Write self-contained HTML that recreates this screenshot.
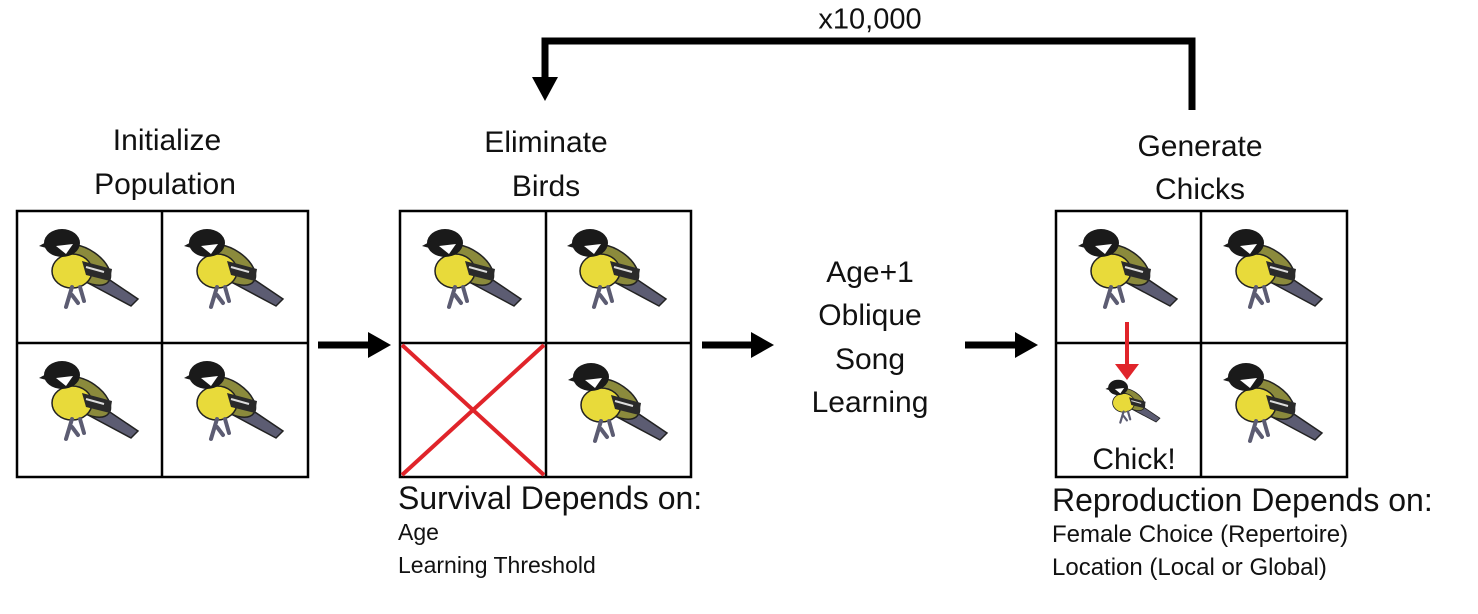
<!DOCTYPE html>
<html><head><style>
body{margin:0;width:1478px;height:614px;background:#fff;position:relative;overflow:hidden;font-family:"Liberation Sans",sans-serif;color:#111}
.t{position:absolute;transform:translate(-50%,-50%);white-space:nowrap;font-size:30px}
.l{position:absolute;white-space:nowrap}
</style></head><body>
<svg width="1478" height="614" style="position:absolute;left:0;top:0">
<defs>
<g id="bird">
<polygon points="75,55 118,84 111,91 68,68" fill="#5c5c72" stroke="#222" stroke-width="1.5"/>
<ellipse cx="66" cy="50" rx="28" ry="15" transform="rotate(35 66 50)" fill="#8b8a3c" stroke="#222" stroke-width="1.5"/>
<ellipse cx="52" cy="56" rx="20" ry="17" fill="#e8da3a" stroke="#222" stroke-width="1.5"/>
<polygon points="62,46 92,54 90,66 66,60" fill="#2a2a2a"/>
<line x1="66" y1="52" x2="84" y2="57" stroke="#ddd" stroke-width="2"/>
<ellipse cx="42" cy="28" rx="18" ry="14" fill="#1a1a1a"/>
<polygon points="36,31 53,29 46,39" fill="#fff"/>
<polygon points="19,31 30,25 30,34" fill="#1a1a1a"/>
<path d="M52 72 L46 92 M52 80 L58 88 M60 72 L64 86" stroke="#5c5c72" stroke-width="4" fill="none" stroke-linecap="round"/>
</g>
</defs>
<g stroke="#000" stroke-width="2.5" fill="none">
<rect x="17" y="211" width="291" height="266"/><line x1="162" y1="211" x2="162" y2="477"/><line x1="17" y1="343" x2="308" y2="343"/>
<rect x="400" y="211" width="291" height="266"/><line x1="546" y1="211" x2="546" y2="477"/><line x1="400" y1="343" x2="691" y2="343"/>
<rect x="1056" y="211" width="291" height="266"/><line x1="1201" y1="211" x2="1201" y2="477"/><line x1="1056" y1="343" x2="1347" y2="343"/>
</g>
<use href="#bird" x="20" y="215"/><use href="#bird" x="165" y="215"/>
<use href="#bird" x="20" y="347"/><use href="#bird" x="165" y="347"/>
<use href="#bird" x="403" y="215"/><use href="#bird" x="548" y="215"/>
<use href="#bird" x="549" y="349"/>
<use href="#bird" x="1059" y="215"/><use href="#bird" x="1204" y="215"/>
<use href="#bird" x="1204" y="349"/>
<g transform="translate(1095,372) scale(0.55)"><use href="#bird"/></g>
<g stroke="#e0242a" stroke-width="4"><line x1="402" y1="345" x2="544" y2="475"/><line x1="544" y1="345" x2="402" y2="475"/></g>
<line x1="1127" y1="322" x2="1127" y2="368" stroke="#e0242a" stroke-width="4"/>
<polygon points="1115,364 1139,364 1127,380" fill="#e0242a"/>
<g stroke="#000" stroke-width="7">
<line x1="318" y1="345" x2="372" y2="345"/><line x1="702" y1="345" x2="755" y2="345"/><line x1="965" y1="345" x2="1019" y2="345"/>
<polyline points="1192,110 1192,41 545,41 545,80" fill="none"/>
</g>
<g fill="#000">
<polygon points="368,332 391,345 368,358"/><polygon points="751,332 774,345 751,358"/><polygon points="1015,332 1038,345 1015,358"/>
<polygon points="532,77 558,77 545,101"/>
</g>
</svg>
<div class="t" style="left:870px;top:20px;font-size:29px">x10,000</div>
<div class="t" style="left:167px;top:141px">Initialize</div>
<div class="t" style="left:165px;top:185px">Population</div>
<div class="t" style="left:546px;top:143px">Eliminate</div>
<div class="t" style="left:546px;top:187px">Birds</div>
<div class="t" style="left:1200px;top:147px">Generate</div>
<div class="t" style="left:1200px;top:190px">Chicks</div>
<div class="t" style="left:870px;top:273px">Age+1</div>
<div class="t" style="left:870px;top:316px">Oblique</div>
<div class="t" style="left:870px;top:360px">Song</div>
<div class="t" style="left:870px;top:403px">Learning</div>
<div class="t" style="left:1134px;top:460px;font-size:30px">Chick!</div>
<div class="l" style="left:398px;top:480px;font-size:32px">Survival Depends on:</div>
<div class="l" style="left:398px;top:519px;font-size:23px">Age</div>
<div class="l" style="left:398px;top:552px;font-size:23px">Learning Threshold</div>
<div class="l" style="left:1052px;top:482px;font-size:32px">Reproduction Depends on:</div>
<div class="l" style="left:1052px;top:521px;font-size:24px">Female Choice (Repertoire)</div>
<div class="l" style="left:1052px;top:554px;font-size:24px">Location (Local or Global)</div>
</body></html>
